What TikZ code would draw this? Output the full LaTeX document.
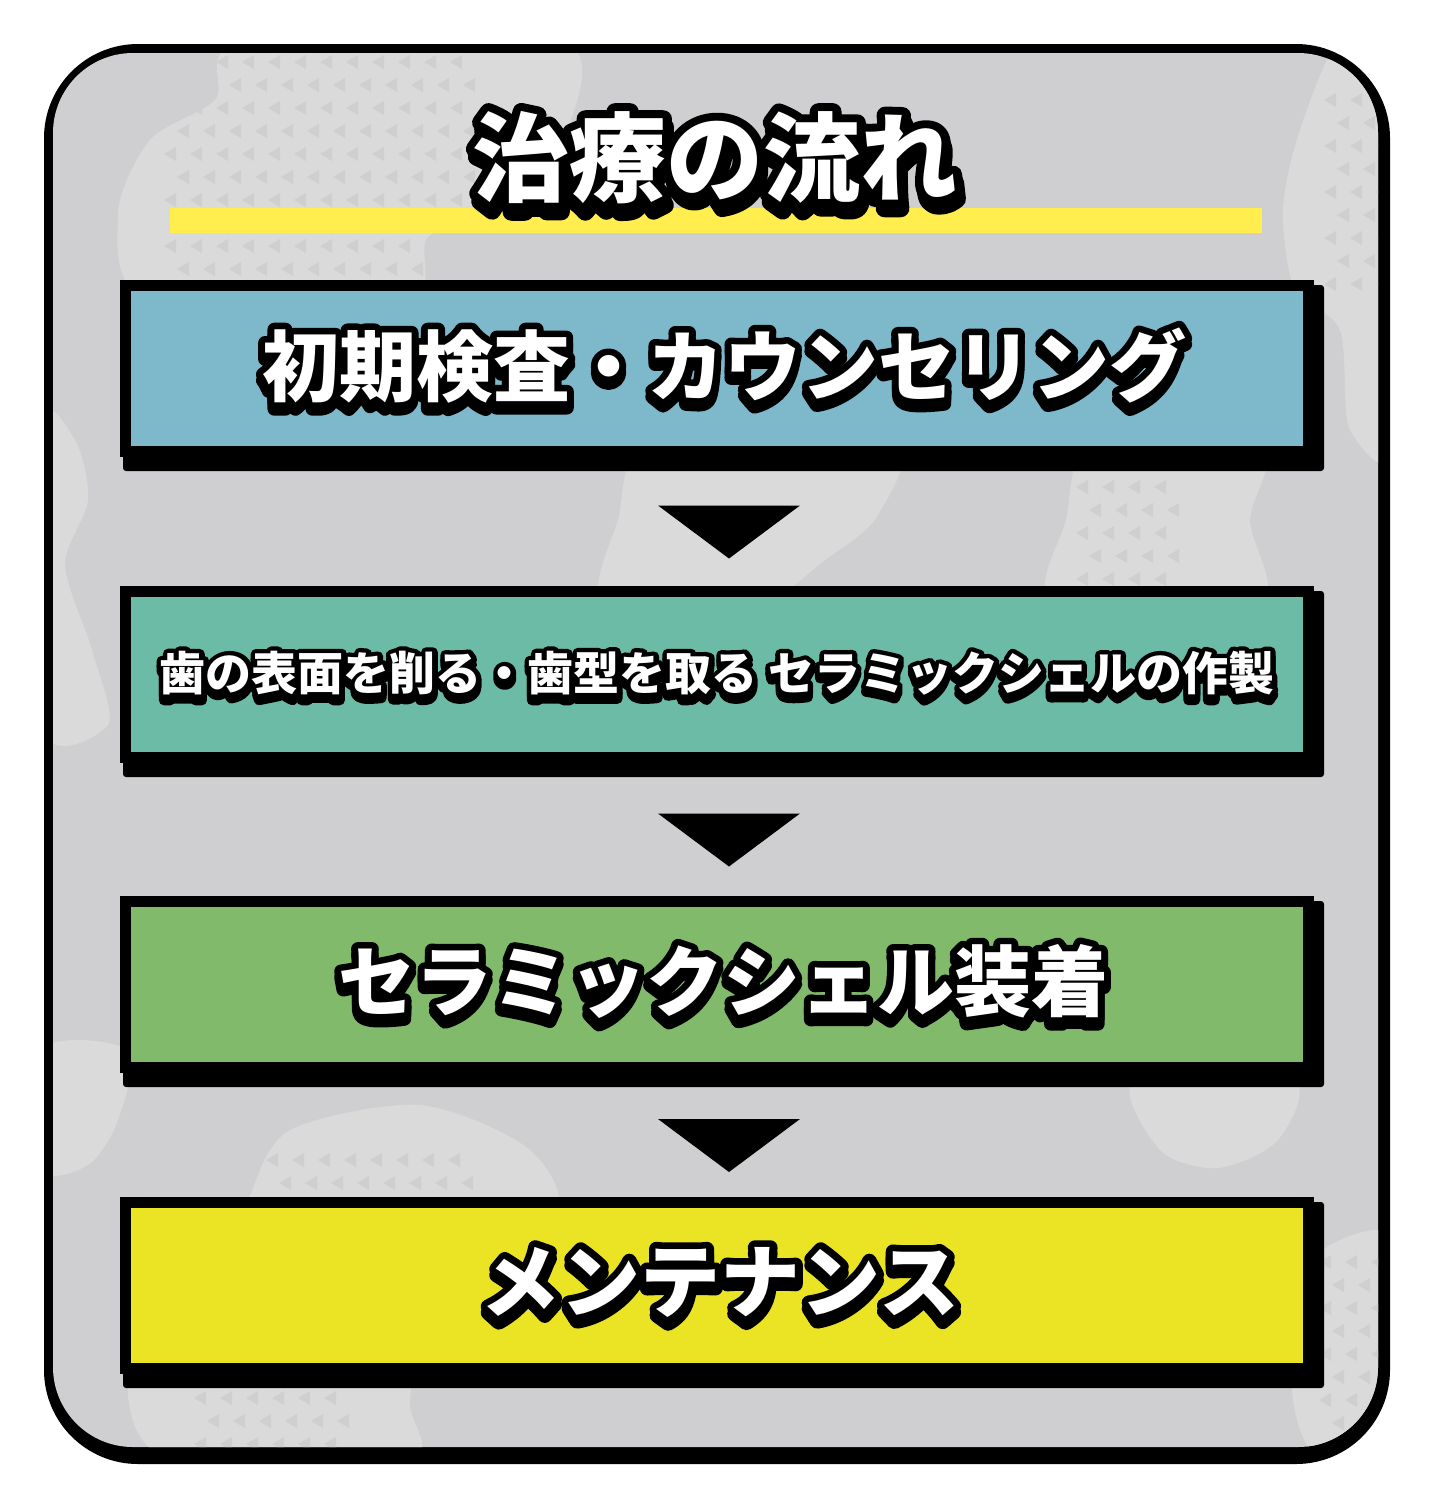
\documentclass[tikz,border=0pt]{standalone}
\usepackage{fontspec}
\newfontfamily\jpfont{Noto Sans CJK JP}
\newfontfamily\jpline{Noto Sans CJK JP}[FakeBold=18]
\newfontfamily\jplinethin{Noto Sans CJK JP}[FakeBold=22]
\usetikzlibrary{positioning, calc}

\definecolor{framegray}{HTML}{CFCFD1}
\definecolor{blobgray}{HTML}{DADADA}
\definecolor{trigray}{HTML}{CFCFCF}
\definecolor{baryellow}{HTML}{FFEE4D}
\definecolor{stepblue}{HTML}{7DB8CB}
\definecolor{stepteal}{HTML}{6CBBA6}
\definecolor{stepgreen}{HTML}{82BA6C}
\definecolor{stepyellow}{HTML}{EBE424}

\pgfdeclarelayer{frame}
\pgfdeclarelayer{shade}
\pgfsetlayers{frame,shade,main}

% white lettering, black outline and drop shadow
\newcommand\poptext[6]{%
  \node[popline={#3}{#6}, text=black] at ($(#2)+(#5)$) {#4};
  \node[popline={#3}{#6}, text=black] at (#2) {#4};
  \node[popfont=#3, text=white] (#1) at (#2) {#4};
}

% grid of small left-pointing triangles
\newcommand\tripatch[4]{%
  \foreach \r in {0,...,#4}
    \foreach \c in {0,...,#3}{
      \pgfmathsetmacro\tx{#1+26*\c+13*mod(\r,2)}
      \pgfmathsetmacro\ty{#2+23*\r}
      \fill[trigray] (\tx+6,\ty-7) -- (\tx+6,\ty+7) -- (\tx-6,\ty) -- cycle;
    }
}

\begin{document}
\begin{tikzpicture}[
    x=0.5pt, y=-0.5pt,
    stepbox/.style={
        rectangle, draw=black, line width=5.5pt, outer sep=0pt,
        minimum width=591.5pt, minimum height=83pt, inner sep=0pt
    },
    popfont/.style={font=\jpfont\bfseries\fontsize{#1}{#1}\selectfont, inner sep=0pt},
    popline/.style 2 args={font=#2\bfseries\fontsize{#1}{#1}\selectfont, inner sep=0pt},
    shade/.style={fill=black, rounded corners=1.5pt},
    downtri/.style={fill=black},
]
    \useasboundingbox (0,0) rectangle (1440,1500);

    % Marco y fondo
    \begin{pgfonlayer}{frame}
    \fill[black, rounded corners=47pt] (44,44) rectangle (1390,1464);
    \fill[framegray, rounded corners=40pt] (53,53) rectangle (1378,1447);
    \begin{scope}
        \clip[rounded corners=40pt] (53,53) rectangle (1378,1447);
        \begin{scope}
            \clip plot[smooth cycle] coordinates {(245,40) (560,40) (565,140) (530,210) (430,235) (405,300) (150,300) (118,215) (150,140) (215,100)};
            \fill[blobgray] (0,0) rectangle (1440,1500);
            \tripatch{170}{62}{11}{10}
        \end{scope}
        \begin{scope}
            \clip plot[smooth cycle] coordinates {(1340,40) (1400,40) (1400,440) (1350,430) (1340,330) (1295,290) (1283,210) (1300,130)};
            \fill[blobgray] (0,0) rectangle (1440,1500);
            \tripatch{1330}{100}{2}{8}
        \end{scope}
        \fill[blobgray] plot[smooth cycle] coordinates {(40,425) (75,440) (88,500) (65,565) (92,650) (108,725) (40,725)};
        \fill[blobgray] plot[smooth cycle] coordinates {(40,1050) (128,1050) (118,1120) (88,1165) (40,1168)};
        \fill[blobgray] plot[smooth cycle] coordinates {(655,440) (890,440) (878,515) (825,560) (755,605) (605,605) (618,520)};
        \begin{scope}
            \clip plot[smooth cycle] coordinates {(1095,440) (1262,440) (1250,520) (1258,605) (1055,605) (1066,520)};
            \fill[blobgray] (0,0) rectangle (1440,1500);
            \tripatch{1082}{487}{3}{4}
        \end{scope}
        \begin{scope}
            \clip plot[smooth cycle] coordinates {(250,1195) (290,1130) (420,1105) (530,1150) (555,1220) (430,1300) (410,1400) (408,1460) (175,1460) (128,1395) (160,1300) (240,1235)};
            \fill[blobgray] (0,0) rectangle (1440,1500);
            \tripatch{272}{1160}{7}{1}
            \tripatch{200}{1398}{5}{2}
        \end{scope}
        \fill[blobgray] plot[smooth cycle] coordinates {(1135,1080) (1292,1080) (1278,1140) (1218,1168) (1160,1150)};
        \begin{scope}
            \clip plot[smooth cycle] coordinates {(1330,1245) (1400,1245) (1400,1460) (1320,1460) (1293,1400) (1298,1300)};
            \fill[blobgray] (0,0) rectangle (1440,1500);
            \tripatch{1325}{1262}{2}{7}
        \end{scope}
    \end{scope}
    \end{pgfonlayer}

    % Titulo
    \fill[baryellow] (170,208) rectangle (1262,233);
    \coordinate (ttl) at (715,158);

    % Pasos
    \node[stepbox, fill=stepblue]                    (b1) at (717,368.5) {};
    \node[stepbox, fill=stepteal, below=70pt of b1]   (b2) {};
    \node[stepbox, fill=stepgreen, below=72pt of b2]  (b3) {};
    \node[stepbox, fill=stepyellow, below=67.5pt of b3] (b4) {};

    \begin{pgfonlayer}{shade}
    \foreach \b in {b1,b2,b3,b4}
        \fill[shade] ([shift={(-2.5,-0.5)}]\b.north west) rectangle ([shift={(15.5,19.5)}]\b.south east);
    \end{pgfonlayer}

    \foreach \u/\v in {b1/b2, b2/b3, b3/b4}
        \fill[downtri] ($(\u.south)!0.5!(\v.north)$) +(-59,-16) -- +(83,-16) -- +(12,37) -- cycle;

    \coordinate (t1) at ([xshift=3.5pt, yshift=1.5pt]b1.center);
    \coordinate (t2) at ([yshift=0.5pt]b2.center);
    \coordinate (t3) at ([xshift=3pt, yshift=1.5pt]b3.center);
    \coordinate (t4) at ([xshift=1.5pt, yshift=1.5pt]b4.center);

    \begin{scope}[line join=round]
    \poptext{title}{ttl}{48.5pt}{治療の流れ}{2,8}{\jpline}
    \poptext{s1}{t1}{38.5pt}{初期検査・カウンセリング}{0,6}{\jpline}
    \poptext{s2}{t2}{23pt}{歯の表面を削る・歯型を取る セラミックシェルの作製}{0,5}{\jplinethin}
    \poptext{s3}{t3}{38.5pt}{セラミックシェル装着}{0,6}{\jpline}
    \poptext{s4}{t4}{40pt}{メンテナンス}{0,6}{\jpline}
    \end{scope}

\end{tikzpicture}
\end{document}
